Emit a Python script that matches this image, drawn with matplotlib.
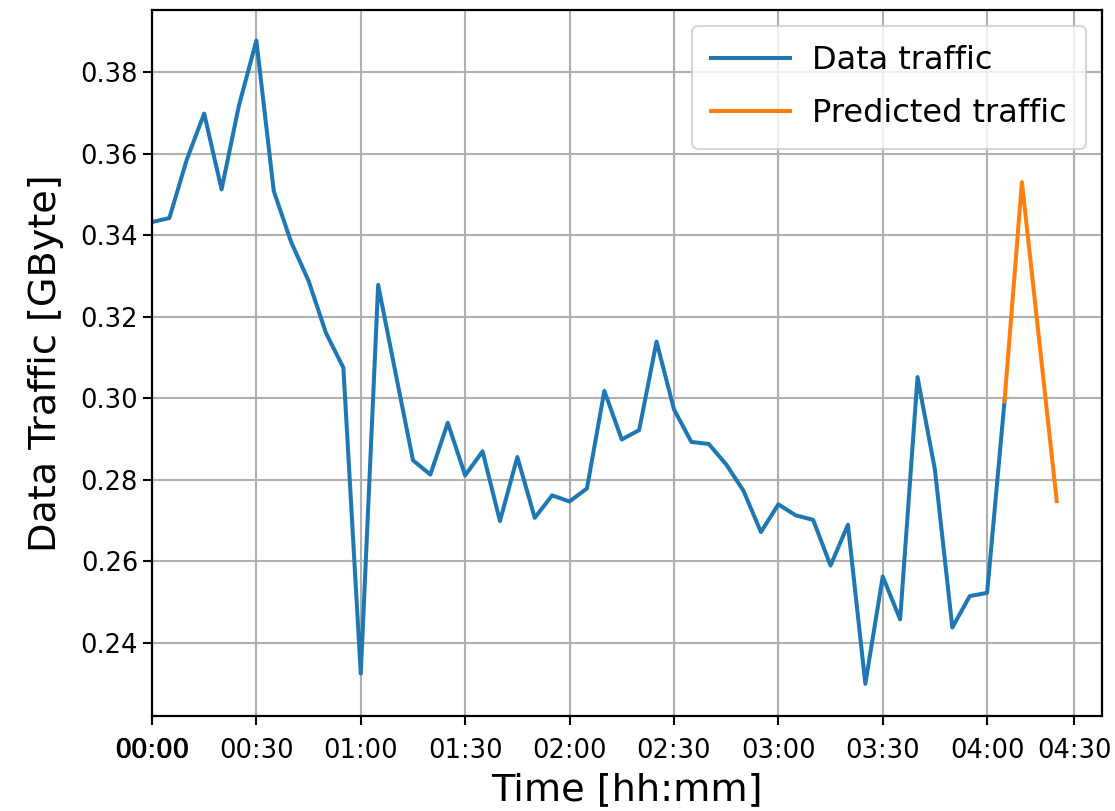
import numpy as np
import matplotlib
matplotlib.use('Agg')
import matplotlib.pyplot as plt

# minutes since 00:00, 5 min steps
time_data = [0, 5, 10, 15, 20, 25, 30, 35, 40, 45, 50, 55, 60, 65, 70, 75, 80, 85, 90, 95,
             100, 105, 110, 115, 120, 125, 130, 135, 140, 145, 150, 155, 160, 165, 170, 175,
             180, 185, 190, 195, 200, 205, 210, 215, 220, 225, 230, 235, 240, 245]
traffic_data = [0.3432, 0.3442, 0.3585, 0.3698, 0.3512, 0.3718, 0.3877, 0.3508, 0.3383, 0.3288,
                0.3160, 0.3075, 0.2325, 0.3278, 0.3062, 0.2848, 0.2813, 0.2940, 0.2811, 0.2870,
                0.2699, 0.2856, 0.2707, 0.2762, 0.2747, 0.2779, 0.3018, 0.2899, 0.2922, 0.3139,
                0.2973, 0.2893, 0.2888, 0.2838, 0.2773, 0.2672, 0.2740, 0.2713, 0.2702, 0.2590,
                0.2690, 0.2300, 0.2563, 0.2458, 0.3052, 0.2825, 0.2438, 0.2515, 0.2523, 0.2993]

time_pred = [245, 250, 260]
traffic_pred = [0.2993, 0.3530, 0.2748]

# the last tick sits at 265 min in the original (labels set by hand)
tick_minutes = [0, 0.15, 30, 60, 90, 120, 150, 180, 210, 240, 265]
tick_labels = ['00:00', '00:00', '00:30', '01:00', '01:30', '02:00', '02:30',
               '03:00', '03:30', '04:00', '04:30']


def main():
    fig = plt.figure(figsize=(11.15, 8.11), dpi=100)
    ax = fig.add_axes([0.1363, 0.1171, 0.852, 0.8706])

    ax.plot(time_data, traffic_data, color='#1f77b4', lw=2.9, label='Data traffic')
    ax.plot(time_pred, traffic_pred, color='#ff7f0e', lw=2.9, label='Predicted traffic')

    ax.set_xlim(0, 273)
    ax.set_ylim(0.2221, 0.3952)
    ax.set_xticks(tick_minutes)
    ax.set_xticklabels(tick_labels)
    ax.set_yticks([0.24, 0.26, 0.28, 0.30, 0.32, 0.34, 0.36, 0.38])

    ax.tick_params(labelsize=18.5, width=1.5, length=6.5)
    ax.tick_params(axis='x', pad=9)
    for s in ax.spines.values():
        s.set_linewidth(1.6)
    ax.grid(True, color='#b0b0b0', lw=1.5)

    ax.set_xlabel('Time [hh:mm]', fontsize=27.5, labelpad=6)
    ax.set_ylabel('Data Traffic [GByte]', fontsize=27.5, labelpad=12)

    leg = ax.legend(loc='upper right', fontsize=23, handlelength=2.45,
                    handletextpad=0.7, borderpad=0.6, labelspacing=0.7,
                    borderaxespad=0.5, framealpha=0.8)
    leg.get_frame().set_linewidth(1.5)

    fig.savefig('out.png', dpi=100)


if __name__ == "__main__":
    main()
